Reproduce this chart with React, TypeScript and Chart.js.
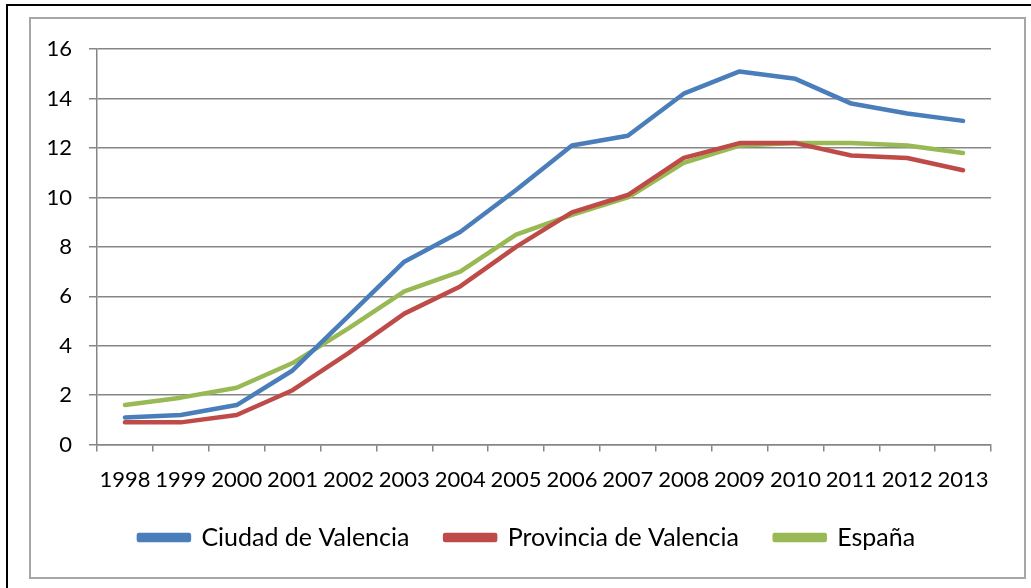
import React, { useEffect, useRef } from "react";
import { Chart, registerables } from "chart.js";

Chart.register(...registerables);

const years = ["1998","1999","2000","2001","2002","2003","2004","2005","2006","2007","2008","2009","2010","2011","2012","2013"];
const ciudad = [1.1, 1.2, 1.6, 3.0, 5.2, 7.4, 8.6, 10.3, 12.1, 12.5, 14.2, 15.1, 14.8, 13.8, 13.4, 13.1];
const provincia = [0.9, 0.9, 1.2, 2.2, 3.7, 5.3, 6.4, 8.0, 9.4, 10.1, 11.6, 12.2, 12.2, 11.7, 11.6, 11.1];
const espana = [1.6, 1.9, 2.3, 3.3, 4.7, 6.2, 7.0, 8.5, 9.3, 10.0, 11.4, 12.1, 12.2, 12.2, 12.1, 11.8];
const seriesNames = ["Ciudad de Valencia", "Provincia de Valencia", "España"];
const seriesColors = ["#4A7EBB", "#BE4B48", "#98B954"];

const FONT = "Lato, 'Noto Sans', sans-serif";

const shiftLegend = {
  id: "shiftLegend",
  afterLayout(chart: any) {
    const lg = chart.legend;
    if (lg) {
      lg.left += 16;
      lg.right += 16;
    }
  },
};

export default function App() {
  const ref = useRef<HTMLCanvasElement | null>(null);
  useEffect(() => {
    if (!ref.current) return;
    const data = [ciudad, provincia, espana];
    const chart = new Chart(ref.current, {
      type: "line",
      data: {
        labels: years,
        datasets: data.map((d, i) => ({
          label: seriesNames[i],
          data: d,
          borderColor: seriesColors[i],
          backgroundColor: seriesColors[i],
          borderWidth: 4.5,
          pointRadius: 0,
          tension: 0,
          borderCapStyle: "round" as const,
          borderJoinStyle: "round" as const,
        })),
      },
      options: {
        responsive: false,
        animation: false,
        layout: { padding: { top: 27, right: 33, left: 0, bottom: 17 } },
        plugins: {
          tooltip: { enabled: false },
          legend: {
            position: "bottom",
            labels: {
              font: { family: FONT, size: 25 },
              color: "#000",
              boxWidth: 50,
              boxHeight: 5,
              padding: 17,
              generateLabels: (c: any) => {
                const items = Chart.defaults.plugins.legend.labels.generateLabels(c);
                return items.map((it: any, i: number) =>
                  i < items.length - 1 ? { ...it, text: it.text + "\u2003" } : it
                );
              },
            },
          },
        },
        scales: {
          x: {
            offset: true,
            grid: {
              offset: true,
              drawOnChartArea: false,
              drawTicks: true,
              tickLength: 7,
              color: "#868686",
              lineWidth: 1.5,
            },
            border: { color: "#868686", width: 1.5 },
            ticks: {
              autoSkip: false,
              maxRotation: 0,
              padding: 15,
              color: "#000",
              font: { family: FONT, size: 22 },
            },
          },
          y: {
            min: 0,
            max: 16,
            afterFit: (s: any) => { s.width = 66; },
            grid: { color: "#868686", tickLength: 8, lineWidth: 1.5 },
            border: { color: "#868686", width: 1.5 },
            ticks: {
              stepSize: 2,
              padding: 17,
              color: "#000",
              font: { family: FONT, size: 22 },
            },
          },
        },
      },
      plugins: [shiftLegend],
    });
    return () => chart.destroy();
  }, []);

  return (
    <div style={{ position: "absolute", left: 6, top: 4, width: 1100, height: 620, border: "2px solid #000", boxSizing: "border-box", background: "#fff" }}>
      <div style={{ position: "absolute", left: 21, top: 11, width: 997, height: 562, border: "2px solid #A6A6A6", boxSizing: "border-box" }}>
        <canvas ref={ref} width={993} height={558} style={{ display: "block" }} />
      </div>
    </div>
  );
}
